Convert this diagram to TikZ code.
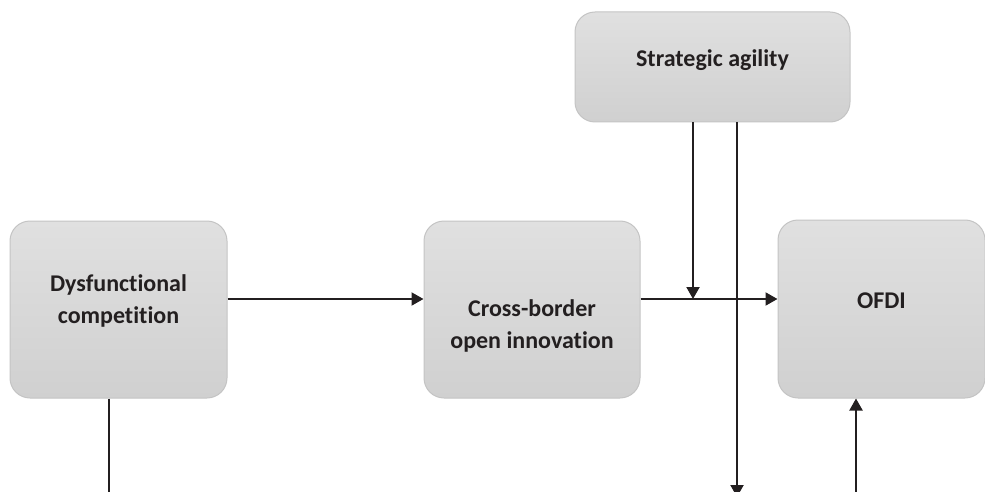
\documentclass[tikz,border=0pt]{standalone}
\usepackage{fontspec}
\setmainfont{Carlito}[Ligatures=NoCommon]
\usepackage{xcolor}
\usetikzlibrary{arrows.meta, positioning}

\definecolor{ink}{HTML}{231F20}
\definecolor{boxtop}{HTML}{E0E0E0}
\definecolor{boxbottom}{HTML}{D0D0D0}
\definecolor{boxline}{HTML}{C4C4C4}

\tikzset{
	box/.style={draw=boxline, line width=1, rounded corners=20, top color=boxtop, bottom color=boxbottom, minimum width=217, minimum height=177, inner sep=0},
	txt/.style={font=\fontsize{24}{32}\selectfont\bfseries, text=ink, align=center},
	link/.style={line width=2, draw=ink},
	arr/.style={link, -{Triangle[length=12, width=13]}},
}

\begin{document}
\begin{tikzpicture}[x=1pt, y=-1pt]
		\useasboundingbox (0,0) rectangle (985,492);

		\node[box, label={[txt, yshift=9]center:Dysfunctional\\competition}] (Dysfunctional competition) at (118.5,309.5) {};
		\node[box, minimum width=216, label={[txt, yshift=-16.5]center:Cross-border\\open innovation}] (Cross-border open innovation) at (532,309.5) {};
		\node[box, minimum width=207, minimum height=178, label={[txt, yshift=8.5]center:OFDI}] (OFDI) at (881.5,309) {};
		\node[box, minimum width=275, minimum height=110, label={[txt, yshift=7]center:Strategic agility}] (Strategic agility) at (712.5,67) {};

		\coordinate (Meet) at (693,299);
		\coordinate (Agility out) at (737,497);
		\coordinate (Competition out) at (109,500);
		\coordinate (OFDI in) at (856,500);

		\draw[arr] (Dysfunctional competition.east |- Meet) to (Cross-border open innovation.west |- Meet);
		\draw[arr] (Cross-border open innovation.east |- Meet) to (OFDI.west |- Meet);
		\draw[arr] (Strategic agility.south -| Meet) to (Meet);
		\draw[arr] (Strategic agility.south -| Agility out) to (Agility out);
		\draw[link] (Dysfunctional competition.south -| Competition out) to (Competition out);
		\draw[arr] (OFDI in) to (OFDI.south -| OFDI in);
	\end{tikzpicture}
\end{document}
